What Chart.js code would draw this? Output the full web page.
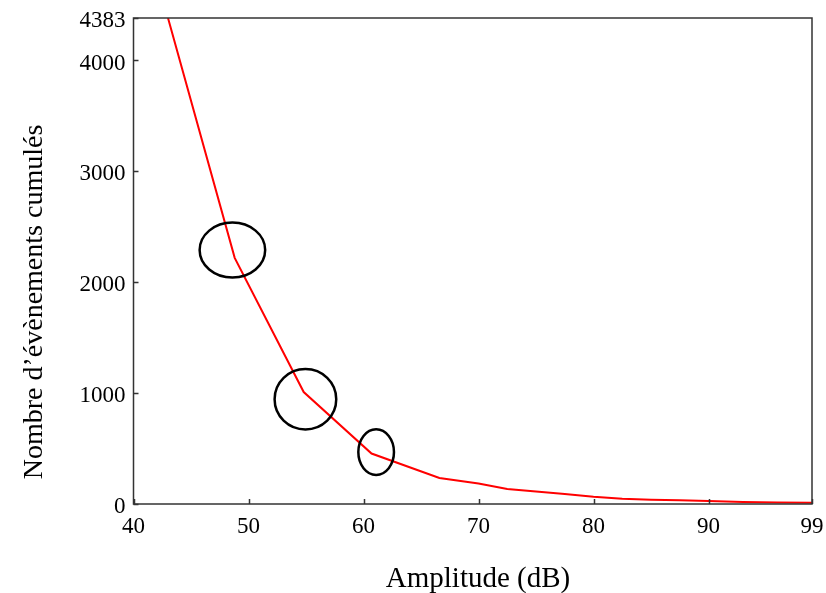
<!DOCTYPE html>
<html>
<head>
<meta charset="utf-8">
<script src="https://cdn.jsdelivr.net/npm/chart.js@4.4.1/dist/chart.umd.min.js"></script>
<style>
    html, body { margin: 0; padding: 0; background: #fff; }
    canvas { display: block; }
</style>
</head>
<body>
<canvas id="chart" width="826" height="593"></canvas>
<script>
// ── Data ──
var amplitude = [43, 48.8, 54.8, 60.7, 66.6, 70, 72.5, 75, 77.5, 80, 82.5, 85, 87.5, 90, 93, 96, 99];
var cumulativeEvents = [4383, 2220, 1010, 455, 235, 185, 135, 112, 90, 66, 48, 38, 33, 27, 18, 14, 11];

var xTicks = [40, 50, 60, 70, 80, 90, 99];
var yTicks = [0, 1000, 2000, 3000, 4000, 4383];

// circled points: [centre amplitude, centre count, radius dB, radius count]
var circles = [
    [48.6, 2290, 2.85, 248],
    [54.95, 945, 2.68, 272],
    [61.1, 468, 1.55, 206]
];

var xTitle = 'Amplitude (dB)';
var yTitle = 'Nombre d\u2019évènements cumulés';

var serif = "'Liberation Serif', 'Times New Roman', serif";

// ── frame, inner ticks, circles, axis titles ──
var decorPlugin = {
    id: 'decor',
    afterDatasetsDraw: function (chart) {
        var ctx = chart.ctx;
        var xs = chart.scales.x, ys = chart.scales.y;
        ctx.save();
        ctx.strokeStyle = '#000';
        ctx.lineWidth = 2.5;
        circles.forEach(function (c) {
            var cx = xs.getPixelForValue(c[0]);
            var cy = ys.getPixelForValue(c[1]);
            var rx = Math.abs(xs.getPixelForValue(c[0] + c[2]) - cx);
            var ry = Math.abs(ys.getPixelForValue(c[1] + c[3]) - cy);
            ctx.beginPath();
            ctx.ellipse(cx, cy, rx, ry, 0, 0, Math.PI * 2);
            ctx.stroke();
        });
        ctx.restore();
    },
    afterDraw: function (chart) {
        var ctx = chart.ctx;
        var a = chart.chartArea;
        var xs = chart.scales.x, ys = chart.scales.y;
        ctx.save();
        ctx.strokeStyle = '#333';
        ctx.lineWidth = 1.5;
        ctx.strokeRect(a.left, a.top, a.right - a.left, a.bottom - a.top);

        ctx.beginPath();
        xTicks.forEach(function (v) {
            var px = Math.round(xs.getPixelForValue(v)) + 0.5;
            ctx.moveTo(px, a.bottom);
            ctx.lineTo(px, a.bottom - 5);
        });
        yTicks.forEach(function (v) {
            var py = Math.round(ys.getPixelForValue(v)) + 0.5;
            ctx.moveTo(a.left, py);
            ctx.lineTo(a.left + 5, py);
        });
        ctx.stroke();

        ctx.fillStyle = '#000';
        ctx.font = '29px ' + serif;
        ctx.textAlign = 'center';
        ctx.textBaseline = 'alphabetic';
        ctx.fillText(xTitle, 478, 587);

        ctx.font = '28px ' + serif;
        ctx.translate(42, 302);
        ctx.rotate(-Math.PI / 2);
        ctx.fillText(yTitle, 0, 0);
        ctx.restore();
    }
};

function plainLabel(value) { return String(value); }

new Chart(document.getElementById('chart'), {
    type: 'line',
    data: {
        datasets: [{
            data: amplitude.map(function (a, i) { return { x: a, y: cumulativeEvents[i] }; }),
            borderColor: '#ff0000',
            borderWidth: 2,
            pointRadius: 0,
            tension: 0,
            fill: false
        }]
    },
    options: {
        responsive: false,
        animation: false,
        layout: { padding: { top: 18, right: 14, left: 0, bottom: 0 } },
        plugins: { legend: { display: false }, tooltip: { enabled: false } },
        scales: {
            x: {
                type: 'linear',
                min: 40,
                max: 99,
                afterBuildTicks: function (s) { s.ticks = xTicks.map(function (v) { return { value: v }; }); },
                afterFit: function (s) { s.height = 89; s.paddingLeft = 0; s.paddingRight = 0; },
                grid: { display: false, drawTicks: false },
                border: { display: false },
                ticks: {
                    color: '#000',
                    font: { family: serif, size: 23 },
                    padding: 9,
                    maxRotation: 0,
                    autoSkip: false,
                    callback: plainLabel
                }
            },
            y: {
                type: 'linear',
                min: 0,
                max: 4383,
                afterBuildTicks: function (s) { s.ticks = yTicks.map(function (v) { return { value: v }; }); },
                afterFit: function (s) { s.width = 133.5; s.paddingTop = 0; s.paddingBottom = 0; },
                grid: { display: false, drawTicks: false },
                border: { display: false },
                ticks: {
                    color: '#000',
                    font: { family: serif, size: 23 },
                    padding: 8,
                    labelOffset: 3,
                    autoSkip: false,
                    callback: plainLabel
                }
            }
        }
    },
    plugins: [decorPlugin]
});
</script>
</body>
</html>
